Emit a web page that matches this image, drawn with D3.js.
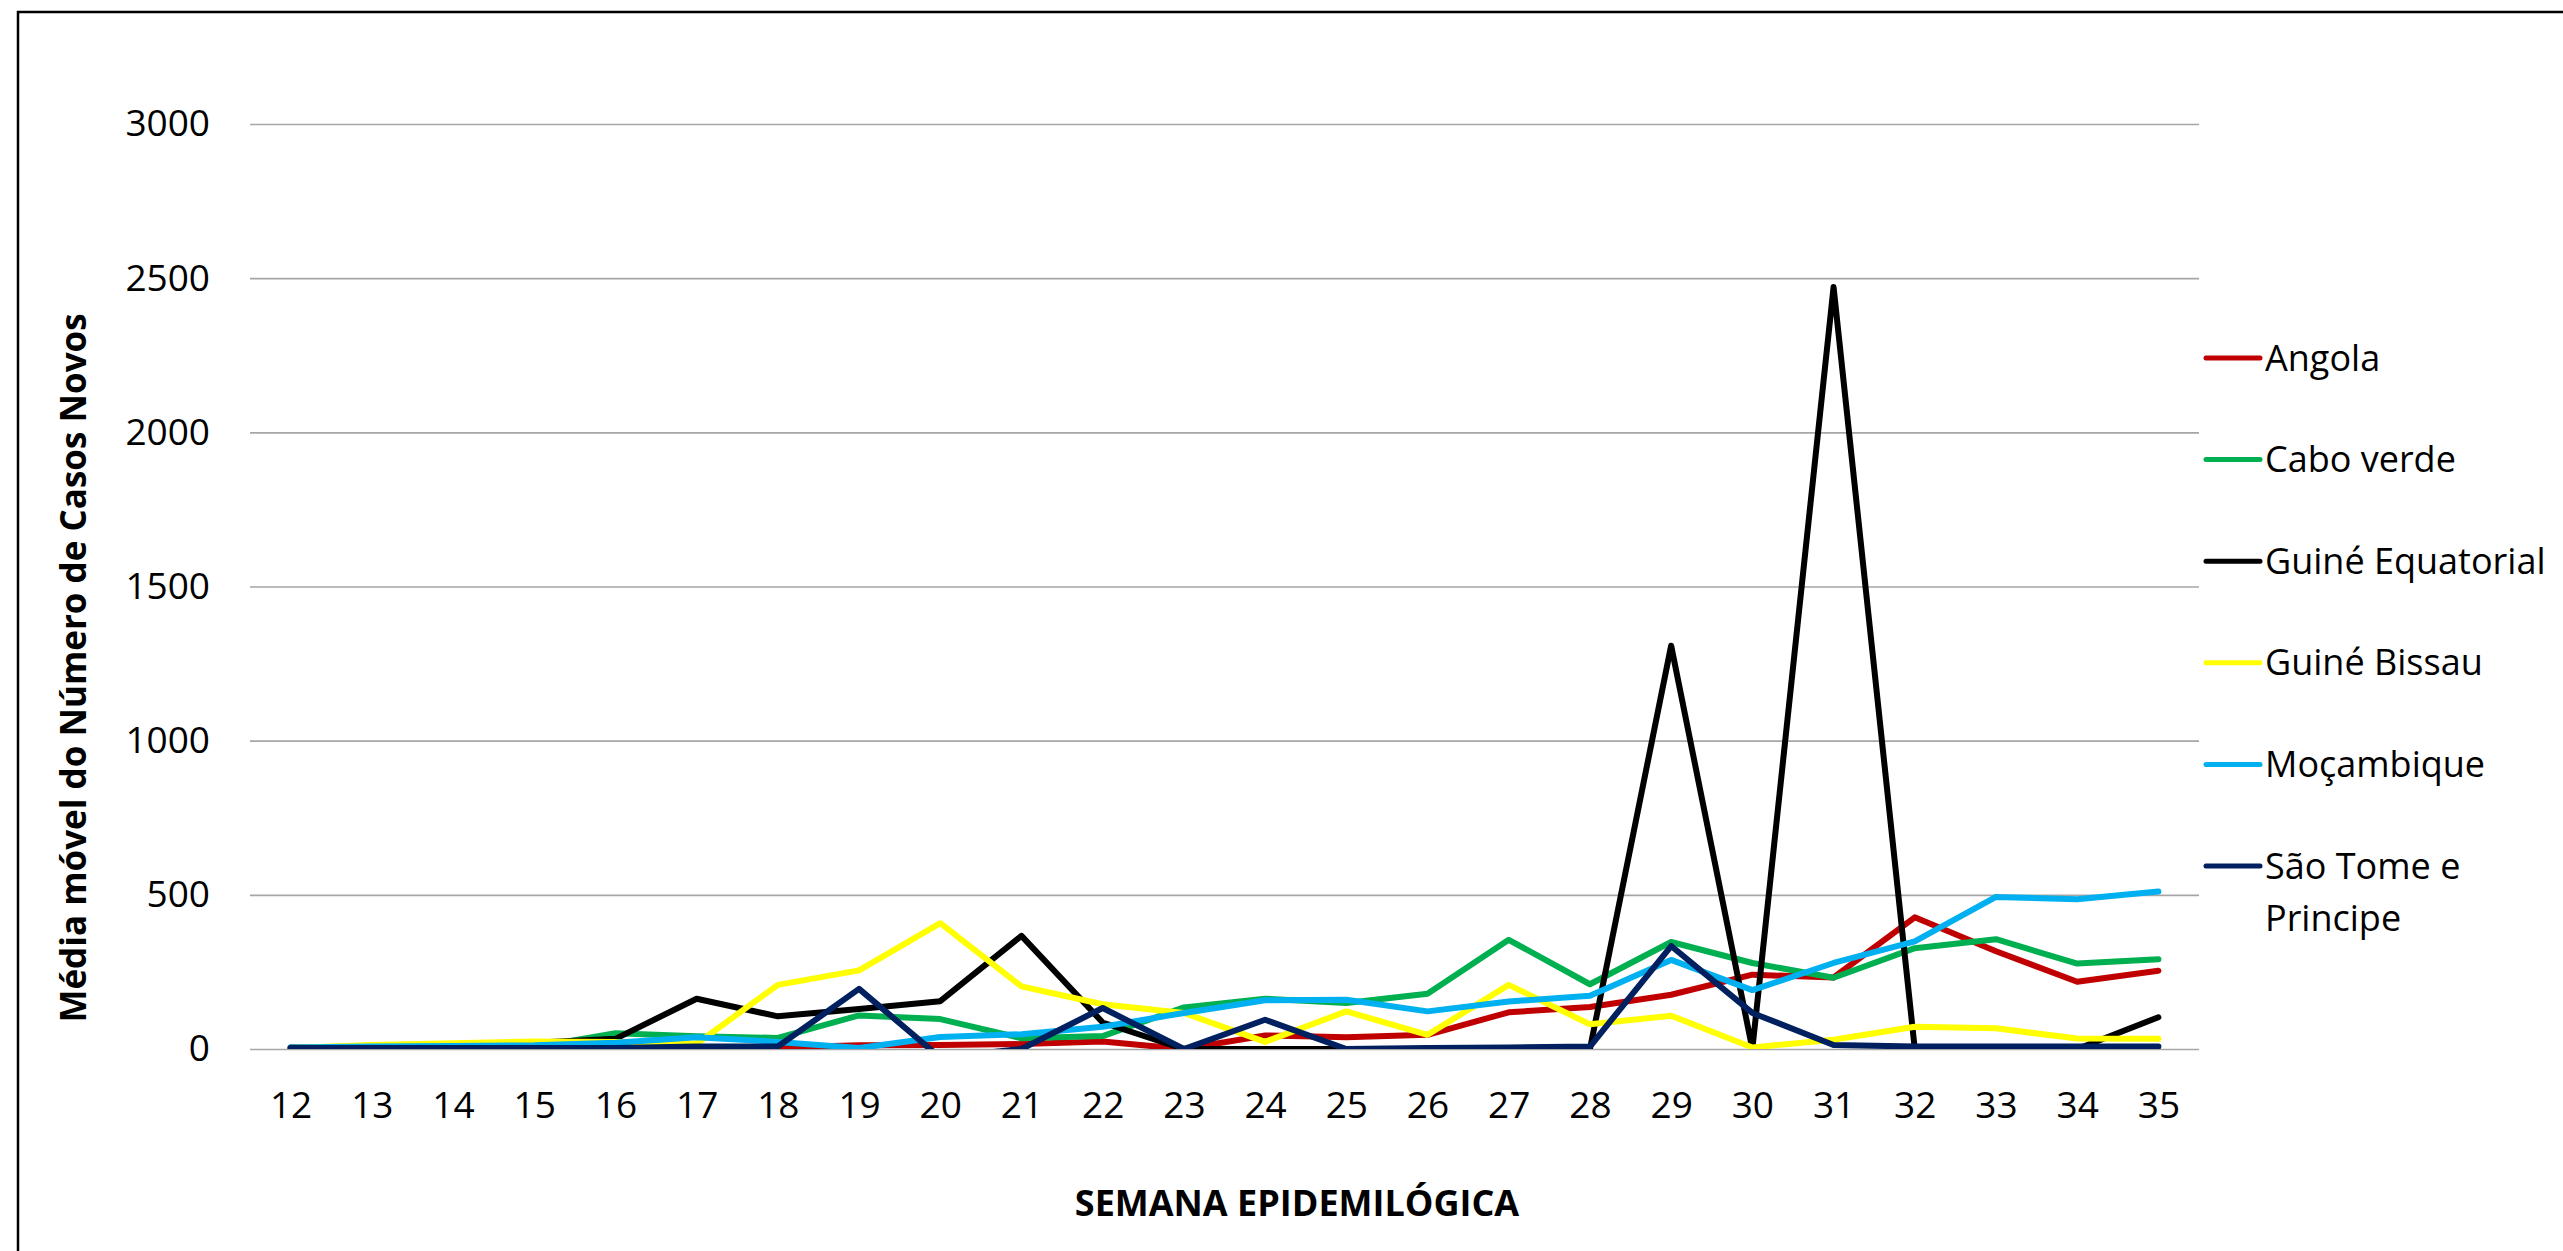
<!DOCTYPE html>
<html>
<head>
<meta charset="utf-8">
<script src="https://cdn.jsdelivr.net/npm/d3@7"></script>
<style>
  body { margin: 0; background: #fff; }
  text { font-family: "Open Sans", sans-serif; fill: #000; }
</style>
</head>
<body>
<svg id="chart" width="2563" height="1251"></svg>
<script>
// semanas epidemiologicas
const weeks = [12, 13, 14, 15, 16, 17, 18, 19, 20, 21, 22, 23, 24, 25, 26, 27, 28, 29, 30, 31, 32, 33, 34, 35];

const angola      = [3, 3, 3, 4, 5, 5, 5, 12, 13, 16, 24, 0, 44, 38, 46, 119, 136, 176, 241, 232, 427, 317, 218, 254];
const caboVerde   = [3, 3, 5, 6, 51, 41, 36, 109, 97, 35, 42, 135, 163, 149, 179, 354, 210, 347, 279, 231, 327, 356, 277, 291];
const guineEq     = [5, 8, 12, 20, 33, 163, 106, 130, 155, 367, 86, 0, 0, 0, 0, 0, 0, 1308, 0, 2471, 0, 0, 0, 103];
const guineBissau = [3, 13, 19, 24, 23, 17, 208, 255, 408, 203, 145, 117, 23, 122, 46, 208, 80, 108, 5, 30, 72, 67, 34, 33];
const mocambique  = [5, 8, 10, 12, 20, 38, 23, 3, 39, 48, 72, 117, 158, 160, 122, 154, 173, 289, 191, 279, 349, 493, 486, 511];
const saoTome     = [3, 3, 3, 3, 3, 8, 8, 195, -28, 0, 133, 0, 95, 0, 3, 5, 8, 334, 117, 13, 8, 8, 8, 8];

const seriesNames  = ["Angola", "Cabo verde", "Guiné Equatorial", "Guiné Bissau", "Moçambique", "São Tome e Principe"];
const seriesValues = [angola, caboVerde, guineEq, guineBissau, mocambique, saoTome];
const colors = ["#C00000", "#00B050", "#000000", "#FFFF00", "#00B0F0", "#002060"];

const yTicks = [0, 500, 1000, 1500, 2000, 2500, 3000];

const svg = d3.select("#chart");

// chart area border (right / bottom fall outside the picture)
svg.append("rect")
  .attr("x", 18).attr("y", 12)
  .attr("width", 2600).attr("height", 1300)
  .attr("fill", "none").attr("stroke", "#000").attr("stroke-width", 2.5);

const plot = { left: 250, right: 2199, top: 124, bottom: 1049 };

const x = d3.scalePoint()
  .domain(weeks)
  .range([plot.left, plot.right])
  .padding(0.5);

const y = d3.scaleLinear()
  .domain([0, 3000])
  .range([plot.bottom, plot.top]);

// y axis + gridlines
const yAxis = svg.append("g")
  .attr("transform", `translate(${plot.left},0)`)
  .call(d3.axisLeft(y).tickValues(yTicks).tickFormat(d3.format("d"))
    .tickSize(-(plot.right - plot.left)).tickPadding(40));
yAxis.select(".domain").remove();
yAxis.selectAll(".tick line").attr("stroke", "#a6a6a6").attr("stroke-width", 1.6);
yAxis.selectAll(".tick text")
  .style("font-family", "'Open Sans', sans-serif")
  .style("font-size", "37px").attr("fill", "#000");

// x axis
const xAxis = svg.append("g")
  .attr("transform", `translate(0,${plot.bottom})`)
  .call(d3.axisBottom(x).tickSize(0));
xAxis.select(".domain").remove();
xAxis.selectAll(".tick text")
  .attr("y", 56).attr("dy", "0.35em")
  .style("font-family", "'Open Sans', sans-serif")
  .style("font-size", "37px").attr("fill", "#000");

// lines, clipped at the value axis like the original
svg.append("clipPath").attr("id", "plotClip")
  .append("rect")
  .attr("x", plot.left).attr("y", 0)
  .attr("width", plot.right - plot.left).attr("height", plot.bottom);

const line = d3.line()
  .x((d, i) => x(weeks[i]))
  .y(d => y(d));

svg.append("g").attr("clip-path", "url(#plotClip)")
  .selectAll("path")
  .data(seriesValues)
  .join("path")
  .attr("d", line)
  .attr("fill", "none")
  .attr("stroke", (d, i) => colors[i])
  .attr("stroke-width", 6)
  .attr("stroke-linejoin", "round")
  .attr("stroke-linecap", "round");

// legend
const legend = svg.append("g");
seriesNames.forEach((name, i) => {
  const ly = 358 + i * 101.6;
  legend.append("line")
    .attr("x1", 2206).attr("x2", 2260)
    .attr("y1", ly).attr("y2", ly)
    .attr("stroke", colors[i]).attr("stroke-width", 5)
    .attr("stroke-linecap", "round");
  const t = legend.append("text")
    .attr("x", 2265).attr("y", ly).attr("dy", "0.35em")
    .style("font-size", "36px");
  // wrap long names to the space that is left
  const words = name.split(" ");
  let current = [];
  let tspan = t.append("tspan").attr("x", 2265);
  words.forEach(w => {
    current.push(w);
    tspan.text(current.join(" "));
    if (tspan.node().getComputedTextLength() > 290 && current.length > 1) {
      current.pop();
      tspan.text(current.join(" "));
      current = [w];
      tspan = t.append("tspan").attr("x", 2265).attr("dy", 52).text(w);
    }
  });
});

// axis titles
svg.append("text")
  .attr("transform", "translate(74,668) rotate(-90)")
  .attr("text-anchor", "middle").attr("dy", "0.35em")
  .style("font-size", "35px").style("font-weight", "bold")
  .text("Média móvel do Número de Casos Novos");

svg.append("text")
  .attr("x", 1297).attr("y", 1203).attr("dy", "0.35em")
  .attr("text-anchor", "middle")
  .style("font-size", "36px").style("font-weight", "bold")
  .text("SEMANA EPIDEMILÓGICA");
</script>
</body>
</html>
